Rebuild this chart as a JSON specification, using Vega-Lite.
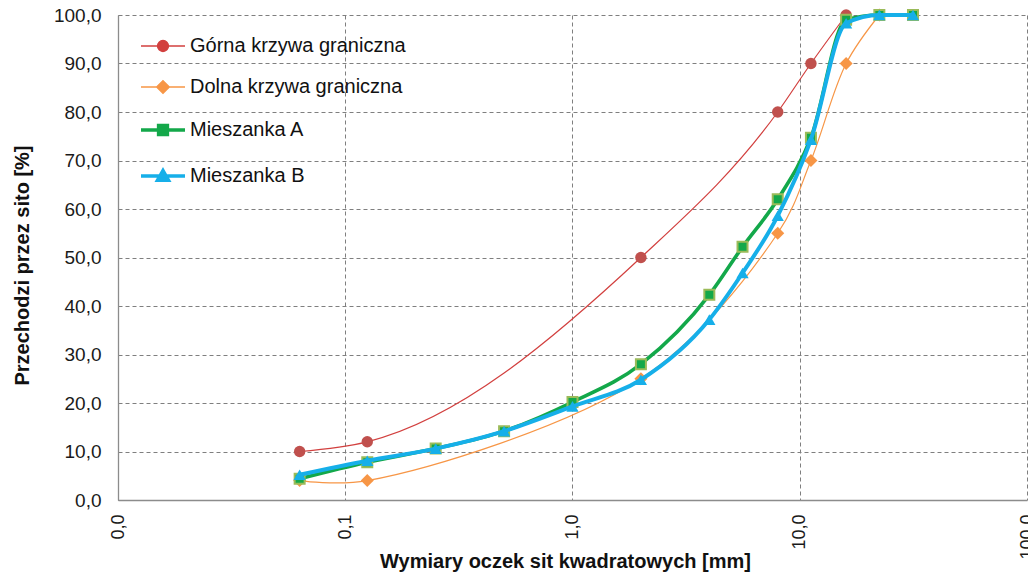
{
  "$schema": "https://vega.github.io/schema/vega-lite/v6.json",
  "width": 909,
  "height": 485,
  "autosize": {"type": "none"},
  "padding": {"left": 118, "top": 15, "right": 1, "bottom": 76},
  "background": "white",
  "config": {
    "view": {"stroke": null},
    "font": "Liberation Sans",
    "axis": {
      "gridColor": "#7f7f7f",
      "gridDash": [4, 3],
      "gridWidth": 1,
      "domainColor": "#8c8c8c",
      "domainWidth": 1.3,
      "ticks": false,
      "labelFont": "Liberation Sans",
      "labelFontSize": 19,
      "labelColor": "#1a1a1a",
      "titleFont": "Liberation Sans",
      "titleFontSize": 20,
      "titleFontWeight": "bold",
      "titleColor": "#111111"
    }
  },
  "data": {
    "values": [
      {"seria": "Górna krzywa graniczna", "d": 0.063, "p": 10},
      {"seria": "Górna krzywa graniczna", "d": 0.125, "p": 12},
      {"seria": "Górna krzywa graniczna", "d": 2, "p": 50},
      {"seria": "Górna krzywa graniczna", "d": 8, "p": 80},
      {"seria": "Górna krzywa graniczna", "d": 11.2, "p": 90},
      {"seria": "Górna krzywa graniczna", "d": 16, "p": 100},

      {"seria": "Dolna krzywa graniczna", "d": 0.063, "p": 4},
      {"seria": "Dolna krzywa graniczna", "d": 0.125, "p": 4},
      {"seria": "Dolna krzywa graniczna", "d": 2, "p": 25},
      {"seria": "Dolna krzywa graniczna", "d": 8, "p": 55},
      {"seria": "Dolna krzywa graniczna", "d": 11.2, "p": 70},
      {"seria": "Dolna krzywa graniczna", "d": 16, "p": 90},
      {"seria": "Dolna krzywa graniczna", "d": 22.4, "p": 100},

      {"seria": "Mieszanka A", "d": 0.063, "p": 4.4},
      {"seria": "Mieszanka A", "d": 0.125, "p": 7.8},
      {"seria": "Mieszanka A", "d": 0.25, "p": 10.6},
      {"seria": "Mieszanka A", "d": 0.5, "p": 14.2},
      {"seria": "Mieszanka A", "d": 1, "p": 20.2},
      {"seria": "Mieszanka A", "d": 2, "p": 28},
      {"seria": "Mieszanka A", "d": 4, "p": 42.3},
      {"seria": "Mieszanka A", "d": 5.6, "p": 52.2},
      {"seria": "Mieszanka A", "d": 8, "p": 62},
      {"seria": "Mieszanka A", "d": 11.2, "p": 74.7},
      {"seria": "Mieszanka A", "d": 16, "p": 99},
      {"seria": "Mieszanka A", "d": 22.4, "p": 100},
      {"seria": "Mieszanka A", "d": 31.5, "p": 100},

      {"seria": "Mieszanka B", "d": 0.063, "p": 5.2},
      {"seria": "Mieszanka B", "d": 0.125, "p": 8.1},
      {"seria": "Mieszanka B", "d": 0.25, "p": 10.6},
      {"seria": "Mieszanka B", "d": 0.5, "p": 14.2},
      {"seria": "Mieszanka B", "d": 1, "p": 19.3},
      {"seria": "Mieszanka B", "d": 2, "p": 24.8},
      {"seria": "Mieszanka B", "d": 4, "p": 37.2},
      {"seria": "Mieszanka B", "d": 5.6, "p": 46.8},
      {"seria": "Mieszanka B", "d": 8, "p": 58.6},
      {"seria": "Mieszanka B", "d": 11.2, "p": 74.3},
      {"seria": "Mieszanka B", "d": 16, "p": 98.3},
      {"seria": "Mieszanka B", "d": 22.4, "p": 100},
      {"seria": "Mieszanka B", "d": 31.5, "p": 100}
    ]
  },
  "encoding": {
    "x": {
      "field": "d",
      "type": "quantitative",
      "scale": {"type": "log", "domain": [0.01, 100], "nice": false},
      "axis": {
        "values": [0.01, 0.1, 1, 10, 100],
        "labelExpr": "replace(format(datum.value, '.1f'), '.', ',')",
        "labelAngle": -90,
        "labelPadding": 14,
        "labelFontSize": 18,
        "grid": true,
        "title": "Wymiary oczek sit kwadratowych [mm]",
        "titleX": 447,
        "titleY": 67,
        "titleBaseline": "alphabetic"
      }
    },
    "y": {
      "field": "p",
      "type": "quantitative",
      "scale": {"domain": [0, 100], "nice": false},
      "axis": {
        "values": [0, 10, 20, 30, 40, 50, 60, 70, 80, 90, 100],
        "labelExpr": "replace(format(datum.value, '.1f'), '.', ',')",
        "labelPadding": 17,
        "grid": true,
        "title": "Przechodzi przez sito [%]",
        "titleX": -86,
        "titleY": 250,
        "titleBaseline": "bottom"
      }
    },
    "color": {
      "field": "seria",
      "type": "nominal",
      "scale": {
        "domain": ["Górna krzywa graniczna", "Dolna krzywa graniczna", "Mieszanka A", "Mieszanka B"],
        "range": ["#D2403F", "#F79646", "#13A84A", "#16AFE9"]
      },
      "legend": {
        "orient": "none",
        "legendX": 35,
        "legendY": 21,
        "title": null,
        "padding": 0,
        "symbolType": "stroke",
        "rowPadding": 21,
        "labelFont": "Liberation Sans",
        "labelFontSize": 20,
        "labelColor": "#111111",
        "labelOffset": 17,
        "labelLimit": 400,
        "encode": {
          "symbols": {
            "update": {
              "shape": {"signal": "datum.value === 'Górna krzywa graniczna' ? 'M-1,0H1M0.25,0A0.25,0.25,0,1,1,-0.25,0A0.25,0.25,0.0,1,1,0.25,0Z' : datum.value === 'Dolna krzywa graniczna' ? 'M-1,0H1M0,-0.29L0.29,0L0,0.29L-0.29,0Z' : datum.value === 'Mieszanka A' ? 'M-1,0H1M-0.2,-0.2H0.2V0.2H-0.2Z' : 'M-1,0H1M0,-0.25L0.25,0.19H-0.25Z'"},
              "size": {"value": 1936},
              "strokeWidth": {"signal": "datum.value === 'Mieszanka A' || datum.value === 'Mieszanka B' ? 3.5 : 1.3"},
              "fill": {"scale": "color", "field": "value"},
              "stroke": {"scale": "color", "field": "value"},
              "opacity": {"value": 1},
              "fillOpacity": {"value": 1},
              "strokeOpacity": {"value": 1}
            }
          }
        }
      }
    }
  },
  "layer": [
    {
      "transform": [{"filter": "datum.seria === 'Górna krzywa graniczna'"}],
      "mark": {"type": "line", "interpolate": "monotone", "strokeWidth": 1.2}
    },
    {
      "transform": [{"filter": "datum.seria === 'Górna krzywa graniczna'"}],
      "mark": {"type": "point", "shape": "circle", "size": 130, "filled": true, "opacity": 1, "strokeWidth": 1},
      "encoding": {"color": {"value": "#C0504D"}}
    },
    {
      "transform": [{"filter": "datum.seria === 'Dolna krzywa graniczna'"}],
      "mark": {"type": "line", "interpolate": "catmull-rom", "strokeWidth": 1.2}
    },
    {
      "transform": [{"filter": "datum.seria === 'Dolna krzywa graniczna'"}],
      "mark": {"type": "point", "shape": "diamond", "size": 170, "filled": true, "opacity": 1, "strokeWidth": 1},
      "encoding": {"color": {"value": "#F79646"}}
    },
    {
      "transform": [{"filter": "datum.seria === 'Mieszanka A'"}],
      "mark": {"type": "line", "interpolate": "monotone", "strokeWidth": 3.6}
    },
    {
      "transform": [{"filter": "datum.seria === 'Mieszanka A'"}],
      "mark": {"type": "point", "shape": "square", "size": 100, "filled": true, "opacity": 1, "strokeWidth": 2},
      "encoding": {"fill": {"value": "#13A84A"}, "stroke": {"value": "#9BBB59"}, "color": {"value": "#13A84A"}}
    },
    {
      "transform": [{"filter": "datum.seria === 'Mieszanka B'"}],
      "mark": {"type": "line", "interpolate": "monotone", "strokeWidth": 4}
    },
    {
      "transform": [{"filter": "datum.seria === 'Mieszanka B'"}],
      "mark": {"type": "point", "shape": "triangle-up", "size": 150, "filled": true, "opacity": 1, "strokeWidth": 1},
      "encoding": {"color": {"value": "#16AFE9"}}
    }
  ]
}
